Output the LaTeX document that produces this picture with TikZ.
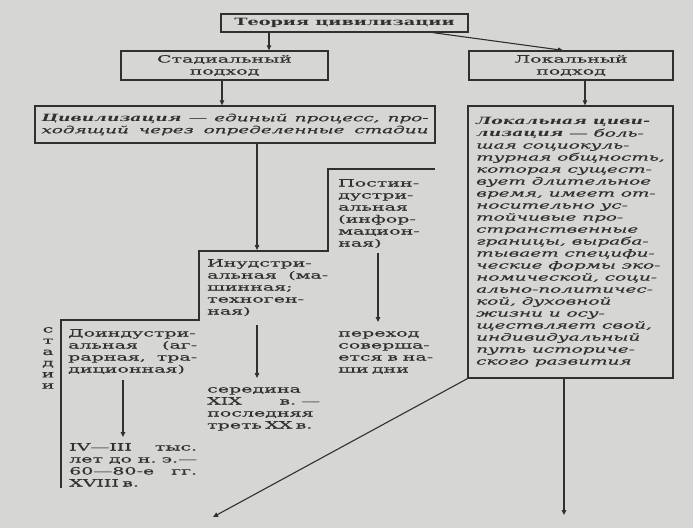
\documentclass[tikz,border=0pt]{standalone}
\usepackage{fontspec}
\setmainfont{DejaVu Serif}[FakeStretch=1.9,FakeBold=0.4]
\newfontfamily\titlefont{DejaVu Serif Bold}[FakeStretch=1.77]
\newfontfamily\itfont{DejaVu Serif Italic}[FakeStretch=1.84,FakeBold=0.4]
\newfontfamily\bifont{DejaVu Serif Bold Italic}[FakeStretch=1.72]
\usetikzlibrary{arrows.meta}
\definecolor{bg}{RGB}{214,214,212}
\definecolor{ink}{RGB}{48,48,48}
\newcommand\J[2]{\makebox[#1][s]{\spaceskip=.35em plus 20em minus .1em\relax #2}}
\begin{document}
\begin{tikzpicture}[x=1pt,y=-1pt,
  font=\fontsize{10}{12}\selectfont,
  box/.style={draw=ink, line width=1.3pt, inner sep=0pt, align=center, text=ink},
  arr/.style={draw=ink, line width=1.1pt, -{Triangle[length=5pt,width=4.5pt]}},
  txt/.style={inner sep=0pt, anchor=base west, text=ink, align=left, text width=240pt},
  ln/.style={draw=ink, line width=1.3pt}]
\fill[bg] (0,0) rectangle (693,528);
\useasboundingbox (0,0) rectangle (693,528);

% boxes
\node[box, minimum width=247pt, minimum height=18pt, font=\titlefont\fontsize{10}{12}\selectfont] (title) at (344.5,23) {Теория цивилизации};
\node[box, minimum width=207pt, minimum height=29pt] (stad) at (224.5,65.5) {Стадиальный\\подход};
\node[box, minimum width=204pt, minimum height=29pt] (loc) at (571,65.5) {Локальный\\подход};
\node[box, minimum width=400pt, minimum height=37pt, align=left, font=\itfont\fontsize{10}{12}\selectfont] (civ) at (235,124.5)
  {\J{387pt}{{\bifont Цивилизация} — единый процесс, про-}\\\J{387pt}{ходящий через определенные стадии}};
\node[box, minimum width=205pt, minimum height=272pt, align=left, font=\itfont\fontsize{10}{12}\selectfont] (ldef) at (570.5,242)
  {{\bifont Локальная циви-}\\{\bifont лизация} — боль-\\шая социокуль-\\турная общность,\\которая сущест-\\вует длительное\\время, имеет от-\\носительно ус-\\тойчивые про-\\странственные\\границы, выраба-\\тывает специфи-\\ческие формы эко-\\номической, соци-\\ально-политичес-\\кой, духовной\\жизни и осу-\\ществляет свой,\\индивидуальный\\путь историче-\\ского развития};

% stage texts
\node[txt] (postind) at (338,186.5) {Постин-\\дустри-\\альная\\(инфор-\\мацион-\\ная)};
\node[txt] (perehod) at (338,336.5) {переход\\соверша-\\\J{95pt}{ется в на-}\\ши дни};
\node[txt] (ind) at (207,266.5) {Инудстри-\\\J{121pt}{альная (ма-}\\шинная;\\техноген-\\ная)};
\node[txt] (ser) at (207,392.5) {середина\\\J{113pt}{XIX в. —}\\последняя\\треть XX в.};
\node[txt] (preind) at (68,336.5) {Доиндустри-\\\J{129pt}{альная (аг-}\\\J{129pt}{рарная, тра-}\\диционная)};
\node[txt] (dates) at (69,450.5) {\J{128pt}{IV—III тыс.}\\\J{128pt}{лет до н. э.—}\\\J{128pt}{60—80-е гг.}\\XVIII в.};
\node[inner sep=0pt, anchor=north, align=center, text=ink, font=\fontsize{10}{11.2}\selectfont] (stadii) at (48,327) {с\\т\\а\\д\\и\\и};

% staircase
\draw[ln] (435,169) -- (328,169) -- (328,251) -- (199,251) -- (199,320) -- (61,320) -- (61,488);

% connectors
\draw[arr] ([xshift=-75.5pt]title.south) -- ([xshift=44.5pt]stad.north);
\draw[arr] ([xshift=88.5pt]title.south) -- ([xshift=-8pt]loc.north);
\draw[arr] ([xshift=-2.5pt]stad.south) -- ([xshift=-13pt]civ.north);
\draw[arr] ([xshift=14pt]loc.south) -- ([xshift=14.5pt]ldef.north);
\coordinate (c1) at (257,250);
\draw[arr] ([xshift=22pt]civ.south) -- (c1);
\coordinate (p1) at (378,253); \coordinate (p2) at (378,322);
\draw[arr] (p1) -- (p2);
\coordinate (i1) at (257,325); \coordinate (i2) at (257,378);
\draw[arr] (i1) -- (i2);
\coordinate (d1) at (123,380); \coordinate (d2) at (123,437);
\draw[arr] (d1) -- (d2);
\coordinate (e1) at (564,515); \coordinate (e2) at (213,517);
\draw[arr] ([xshift=-6.5pt]ldef.south) -- (e1);
\draw[arr] (ldef.south west) -- (e2);
\end{tikzpicture}
\end{document}
